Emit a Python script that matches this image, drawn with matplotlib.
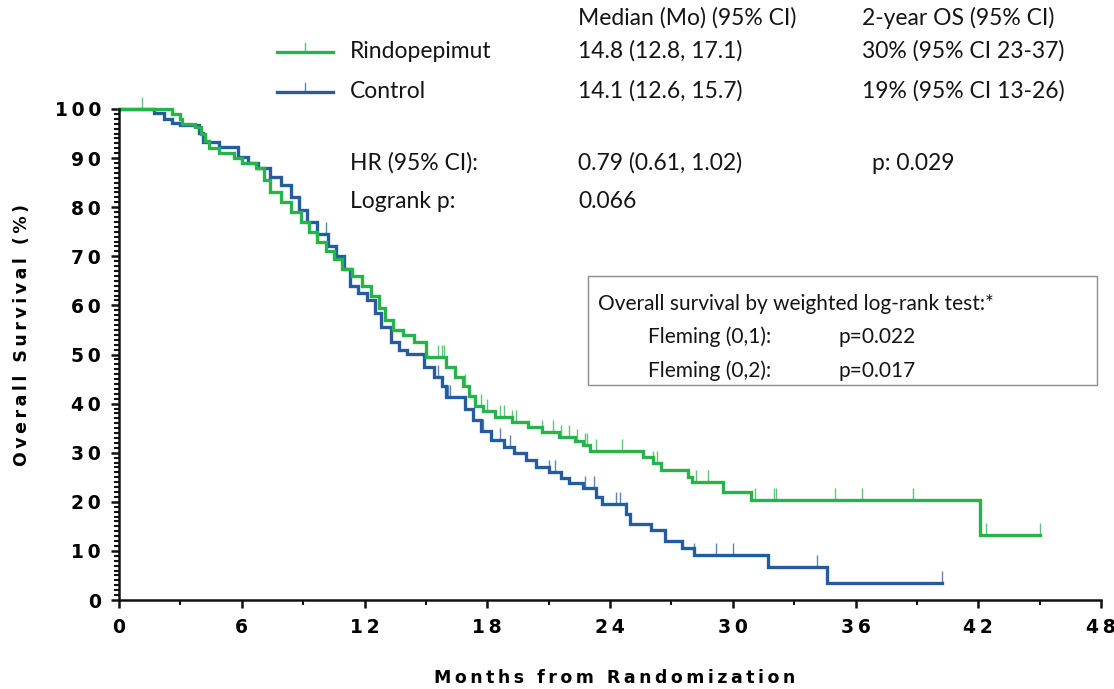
#!/usr/bin/env python3
"""Kaplan-Meier overall survival, rindopepimut vs control."""

import numpy as np
import matplotlib
matplotlib.use("Agg")
import matplotlib.pyplot as plt
from matplotlib.lines import Line2D
from matplotlib.patches import Rectangle
from matplotlib.path import Path
from matplotlib.ticker import MultipleLocator, FixedLocator

# step data (months, % surviving after each drop)
rindo_t = [0, 2.6, 3.0, 3.1, 3.7, 4.0, 4.2, 4.4, 4.9, 5.6, 6.0, 6.7, 7.1, 7.4,
           7.9, 8.4, 8.9, 9.3, 9.7, 10.1, 10.5, 10.9, 11.4, 11.9, 12.3, 12.7,
           13.0, 13.4, 13.9, 14.4, 15.0, 16.0, 16.4, 16.8, 17.1, 17.4, 17.8,
           18.4, 19.2, 20.0, 20.7, 21.5, 22.3, 22.7, 23.0, 25.6, 26.1, 26.5,
           27.8, 28.0, 29.5, 30.9, 42.1]
rindo_s = [100, 99, 98, 97, 96.3, 95, 93.5, 92, 91, 90, 89, 88, 85.5, 83,
           81, 79, 77, 75, 73, 71, 69.5, 67.5, 66, 64, 62, 59.5,
           57, 55, 54, 52.5, 49.5, 47.5, 45.5, 43.5, 41.5, 39.5, 38.5,
           37.3, 36.3, 35.3, 34.2, 33.2, 32.3, 31.5, 30.3, 29.2, 28, 26.5,
           25, 24, 22, 20.3, 13.3]
rindo_end = 45.0
rindo_cens = [1.1, 15.6, 15.8, 15.9, 16.9, 17.7, 18.0, 18.6, 18.8, 19.2, 19.4,
              20.7, 21.2, 21.6, 22.0, 22.4, 22.8, 22.9, 23.3, 24.6, 26.1, 26.3,
              28.2, 28.8, 31.1, 32.0, 32.1, 35.0, 36.3, 38.8, 42.4, 45.0]

ctrl_t = [0, 1.7, 2.2, 2.6, 3.0, 3.9, 4.1, 4.9, 5.8, 6.3, 6.8, 7.4, 7.9, 8.4,
          8.8, 9.2, 9.7, 10.2, 10.6, 11.0, 11.3, 11.7, 12.1, 12.5, 12.8, 13.3,
          13.7, 14.1, 14.9, 15.4, 15.8, 16.0, 16.9, 17.3, 17.7, 18.2, 18.8,
          19.3, 19.9, 20.4, 21.0, 21.6, 22.0, 22.7, 23.3, 23.6, 24.8, 25.0,
          26.0, 26.7, 27.5, 28.1, 31.7, 34.6]
ctrl_s = [100, 99.2, 98, 97.1, 96.7, 95.1, 93.3, 92.3, 90.2, 89, 88, 86.2,
          84.5, 82, 79.5, 77, 74.5, 72, 70, 67.5, 64, 62.5, 61, 58.5, 55.6,
          52.5, 51, 50.2, 47.5, 45.4, 43.5, 41.3, 39, 36.7, 34.5, 32.6, 31.2,
          29.9, 28.5, 27.1, 26, 24.8, 23.8, 22.8, 21, 19.5, 17.5, 15.5, 14.3,
          12, 10.6, 9.1, 6.8, 3.4]
ctrl_end = 40.25
ctrl_cens = [10.1, 15.6, 16.1, 16.2, 17.8, 18.6, 19.1, 21.0, 21.3, 22.8, 23.2,
             24.3, 24.5, 24.8, 28.1, 29.2, 30.0, 34.1, 40.25]

x_ticks = [0, 6, 12, 18, 24, 30, 36, 42, 48]
y_ticks = [0, 10, 20, 30, 40, 50, 60, 70, 80, 90, 100]

GREEN = '#27b34a'
BLUE = '#255c9e'
TXT = '#141414'
TEXT_FONT = ['Lato', 'DejaVu Sans']

W, H = 1114, 689


def spaced(s, gap='\u2009'):
    return gap.join(s)


def fx(px):
    return px / W


def fy(py):
    return 1 - py / H


def surv_at(times, surv, t):
    i = np.searchsorted(times, t, side='right') - 1
    return np.asarray(surv)[i]


# censor marker: a short stroke going up from the curve
cens_mark = Path([(0, 0), (0, 1)], [Path.MOVETO, Path.LINETO])

fig = plt.figure(figsize=(W / 100, H / 100), dpi=100)
ax = fig.add_axes([fx(119), fy(600), fx(1101) - fx(119), fy(109) - fy(600)])

for t, s, end, cens, col in [(ctrl_t, ctrl_s, ctrl_end, ctrl_cens, BLUE),
                             (rindo_t, rindo_s, rindo_end, rindo_cens, GREEN)]:
    tt = list(t) + [end]
    ss = list(s) + [s[-1]]
    ax.step(tt, ss, where='post', color=col, lw=2.4, clip_on=False,
            solid_joinstyle='miter')
    cy = [surv_at(t, s, c) for c in cens]
    ax.plot(cens, cy, ls='none', marker=cens_mark, ms=17, mew=1.0,
            color=col, alpha=0.75, clip_on=False)

ax.set_xlim(0, 48)
ax.set_ylim(0, 100)
ax.spines['top'].set_visible(False)
ax.spines['right'].set_visible(False)
for sp in ['left', 'bottom']:
    ax.spines[sp].set_linewidth(1.8)
    ax.spines[sp].set_color('#111111')

ax.xaxis.set_major_locator(FixedLocator(x_ticks))
ax.yaxis.set_major_locator(FixedLocator(y_ticks))
ax.xaxis.set_minor_locator(MultipleLocator(3))
ax.yaxis.set_minor_locator(MultipleLocator(1))
ax.set_xticklabels([spaced(str(v)) for v in x_ticks])
ax.set_yticklabels([spaced(str(v)) for v in y_ticks])
ax.tick_params(which='major', length=6, width=1.8, color='#111111', pad=7,
               labelsize=13.5)
ax.tick_params(which='minor', length=3.5, width=1.5, color='#111111')
for lab in ax.get_xticklabels() + ax.get_yticklabels():
    lab.set_fontweight('bold')

ax.set_xlabel(spaced('Months from Randomization'), fontsize=12.5,
              fontweight='bold')
ax.set_ylabel(spaced('Overall Survival (%)'), fontsize=12.5,
              fontweight='bold')
ax.xaxis.set_label_coords(0.505, -0.14)
ax.yaxis.set_label_coords(-0.09, 0.54)

# legend + summary table at top
fs = 16.5
kw = dict(fontsize=fs, color=TXT, family=TEXT_FONT, va='center')
fig.text(fx(578), fy(18), 'Median (Mo) (95% CI)', **kw)
fig.text(fx(862), fy(18), '2-year OS (95% CI)', **kw)

for py, name, med, os2, col in [(52, 'Rindopepimut', '14.8 (12.8, 17.1)',
                                 '30% (95% CI 23-37)', GREEN),
                                (92, 'Control', '14.1 (12.6, 15.7)',
                                 '19% (95% CI 13-26)', BLUE)]:
    fig.add_artist(Line2D([fx(277), fx(333)], [fy(py), fy(py)], color=col,
                          lw=2.4))
    fig.add_artist(Line2D([fx(305), fx(305)], [fy(py), fy(py - 9)],
                          color=col, lw=1.0, alpha=0.75))
    fig.text(fx(350), fy(py - 1), name, **kw)
    fig.text(fx(578), fy(py - 1), med, **kw)
    fig.text(fx(862), fy(py - 1), os2, **kw)

fig.text(fx(350), fy(163), 'HR (95% CI):', **kw)
fig.text(fx(578), fy(163), '0.79 (0.61, 1.02)', **kw)
fig.text(fx(872), fy(163), 'p: 0.029', **kw)
fig.text(fx(350), fy(202), 'Logrank p:', **kw)
fig.text(fx(578), fy(202), '0.066', **kw)

# weighted log-rank box
fig.add_artist(Rectangle((fx(588), fy(385)), fx(1097) - fx(588),
                         fy(276) - fy(385), transform=fig.transFigure,
                         facecolor='white', edgecolor='#8c8c8c', lw=1.0))
kw2 = dict(kw, fontsize=15)
fig.text(fx(598), fy(304), 'Overall survival by weighted log-rank test:*', **kw2)
fig.text(fx(648), fy(337), 'Fleming (0,1):', **kw2)
fig.text(fx(838), fy(337), 'p=0.022', **kw2)
fig.text(fx(648), fy(371), 'Fleming (0,2):', **kw2)
fig.text(fx(838), fy(371), 'p=0.017', **kw2)

fig.savefig('out.png', dpi=100)
